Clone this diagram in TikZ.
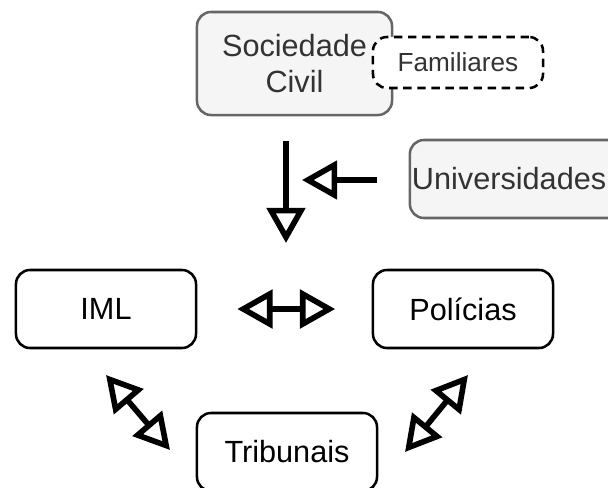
\documentclass[tikz,border=0pt]{standalone}
\usepackage{fontspec}
\setmainfont{Liberation Sans}
\usetikzlibrary{arrows.meta,positioning}
\definecolor{civfill}{HTML}{F5F5F5}
\definecolor{civedge}{HTML}{666666}
\definecolor{civtext}{HTML}{333333}

\tikzset{
  hollow/.tip={Triangle[open,length=25pt,width=27pt]},
  actor/.style={draw, line width=1.8pt, rounded corners=10pt, fill=white,
    minimum width=4.5cm, minimum height=1.95cm, align=center,
    font=\fontsize{21.8}{26}\selectfont},
  outer/.style={actor, fill=civfill, draw=civedge, text=civtext},
  link/.style={-hollow, line width=4pt},
  duplex/.style={hollow-hollow, line width=4pt}
}

\begin{document}
\begin{tikzpicture}[x=0.025cm, y=-0.025cm]
  \useasboundingbox (0,0) rectangle (608,488);
  \clip (0,0) rectangle (608,488);

  % society side
  \node[outer, minimum width=4.875cm, minimum height=2.575cm] (civil) at (294.5,63.5) {Sociedade\\Civil};
  \node[actor, dash pattern=on 6pt off 4pt, line width=1.8pt, minimum width=4.25cm, minimum height=1.275cm,
        text=civtext, font=\fontsize{18.6}{22}\selectfont] (famil) at (458,62.5) {Familiares};
  \node[outer, inner xsep=1.5pt, text width=5.4cm, align=left] (univ) at (520,179) {Universidades};

  % institutions
  \node[actor] (iml) at (106,309) {IML};
  \node[actor] (pol) at (463,309) {Polícias};
  \node[actor] (trib) at (287,452) {Tribunais};

  \coordinate (civ-out) at (286,141);
  \coordinate (hub) at (286,243);
  \coordinate (uni-out) at (377,180);
  \coordinate (uni-in) at (302,180);
  \coordinate (iml-low) at (106,375);
  \coordinate (trib-l) at (170,450);
  \coordinate (pol-low) at (468,375);
  \coordinate (trib-r) at (405,452);

  \draw[link] (civ-out) -- (hub);
  \draw[link] (uni-out) -- (uni-in);
  \draw[duplex, shorten <=28.5pt, shorten >=26pt] (iml.east) -- (pol.west);
  \draw[duplex] (iml-low) -- (trib-l);
  \draw[duplex] (pol-low) -- (trib-r);
\end{tikzpicture}
\end{document}
